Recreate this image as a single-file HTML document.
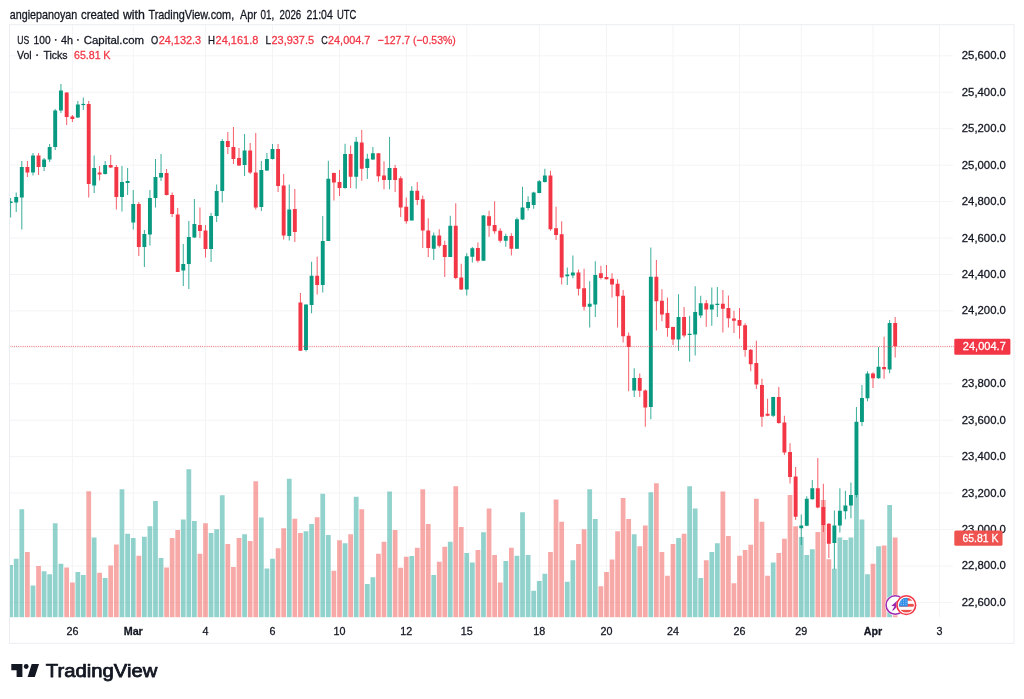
<!DOCTYPE html><html><head><meta charset="utf-8"><title>chart</title><style>html,body{margin:0;padding:0;background:#fff}body{width:1024px;height:699px;overflow:hidden}</style></head><body><svg width="1024" height="699" viewBox="0 0 1024 699" style="display:block">
<rect width="1024" height="699" fill="#fff"/>
<g opacity="0.999">
<defs><clipPath id="pane"><rect x="10.00" y="24.70" width="943.50" height="592.70"/></clipPath></defs>
<g stroke="#f4f4f6" stroke-width="1" shape-rendering="auto">
<line x1="9.5" y1="55.80" x2="953.0" y2="55.80"/>
<line x1="9.5" y1="92.24" x2="953.0" y2="92.24"/>
<line x1="9.5" y1="128.68" x2="953.0" y2="128.68"/>
<line x1="9.5" y1="165.12" x2="953.0" y2="165.12"/>
<line x1="9.5" y1="201.56" x2="953.0" y2="201.56"/>
<line x1="9.5" y1="238.00" x2="953.0" y2="238.00"/>
<line x1="9.5" y1="274.44" x2="953.0" y2="274.44"/>
<line x1="9.5" y1="310.88" x2="953.0" y2="310.88"/>
<line x1="9.5" y1="347.32" x2="953.0" y2="347.32"/>
<line x1="9.5" y1="383.76" x2="953.0" y2="383.76"/>
<line x1="9.5" y1="420.20" x2="953.0" y2="420.20"/>
<line x1="9.5" y1="456.64" x2="953.0" y2="456.64"/>
<line x1="9.5" y1="493.08" x2="953.0" y2="493.08"/>
<line x1="9.5" y1="529.52" x2="953.0" y2="529.52"/>
<line x1="9.5" y1="565.96" x2="953.0" y2="565.96"/>
<line x1="9.5" y1="602.40" x2="953.0" y2="602.40"/>
<line x1="72.40" y1="24.7" x2="72.40" y2="617.4"/>
<line x1="133.25" y1="24.7" x2="133.25" y2="617.4"/>
<line x1="205.50" y1="24.7" x2="205.50" y2="617.4"/>
<line x1="272.50" y1="24.7" x2="272.50" y2="617.4"/>
<line x1="339.50" y1="24.7" x2="339.50" y2="617.4"/>
<line x1="406.25" y1="24.7" x2="406.25" y2="617.4"/>
<line x1="466.75" y1="24.7" x2="466.75" y2="617.4"/>
<line x1="539.25" y1="24.7" x2="539.25" y2="617.4"/>
<line x1="606.50" y1="24.7" x2="606.50" y2="617.4"/>
<line x1="673.00" y1="24.7" x2="673.00" y2="617.4"/>
<line x1="739.50" y1="24.7" x2="739.50" y2="617.4"/>
<line x1="801.25" y1="24.7" x2="801.25" y2="617.4"/>
<line x1="873.00" y1="24.7" x2="873.00" y2="617.4"/>
<line x1="939.50" y1="24.7" x2="939.50" y2="617.4"/>
</g>
<g clip-path="url(#pane)">
<rect x="8.22" y="565.00" width="4.75" height="52.40" fill="#26a69a" fill-opacity="0.5"/>
<rect x="13.82" y="558.75" width="4.75" height="58.65" fill="#26a69a" fill-opacity="0.5"/>
<rect x="19.42" y="509.25" width="4.75" height="108.15" fill="#26a69a" fill-opacity="0.5"/>
<rect x="25.02" y="552.00" width="4.75" height="65.40" fill="#ef5350" fill-opacity="0.5"/>
<rect x="30.62" y="585.50" width="4.75" height="31.90" fill="#26a69a" fill-opacity="0.5"/>
<rect x="36.17" y="566.00" width="4.75" height="51.40" fill="#ef5350" fill-opacity="0.5"/>
<rect x="41.73" y="571.25" width="4.75" height="46.15" fill="#26a69a" fill-opacity="0.5"/>
<rect x="47.28" y="574.25" width="4.75" height="43.15" fill="#26a69a" fill-opacity="0.5"/>
<rect x="52.83" y="523.25" width="4.75" height="94.15" fill="#26a69a" fill-opacity="0.5"/>
<rect x="58.56" y="563.75" width="4.75" height="53.65" fill="#26a69a" fill-opacity="0.5"/>
<rect x="64.29" y="567.50" width="4.75" height="49.90" fill="#ef5350" fill-opacity="0.5"/>
<rect x="70.03" y="582.50" width="4.75" height="34.90" fill="#ef5350" fill-opacity="0.5"/>
<rect x="75.47" y="572.00" width="4.75" height="45.40" fill="#26a69a" fill-opacity="0.5"/>
<rect x="80.91" y="575.00" width="4.75" height="42.40" fill="#26a69a" fill-opacity="0.5"/>
<rect x="86.34" y="491.25" width="4.75" height="126.15" fill="#ef5350" fill-opacity="0.5"/>
<rect x="91.78" y="537.50" width="4.75" height="79.90" fill="#26a69a" fill-opacity="0.5"/>
<rect x="97.22" y="572.75" width="4.75" height="44.65" fill="#ef5350" fill-opacity="0.5"/>
<rect x="102.78" y="578.00" width="4.75" height="39.40" fill="#26a69a" fill-opacity="0.5"/>
<rect x="108.33" y="565.50" width="4.75" height="51.90" fill="#ef5350" fill-opacity="0.5"/>
<rect x="113.96" y="544.50" width="4.75" height="72.90" fill="#ef5350" fill-opacity="0.5"/>
<rect x="119.60" y="489.25" width="4.75" height="128.15" fill="#26a69a" fill-opacity="0.5"/>
<rect x="125.24" y="533.75" width="4.75" height="83.65" fill="#26a69a" fill-opacity="0.5"/>
<rect x="130.88" y="538.00" width="4.75" height="79.40" fill="#26a69a" fill-opacity="0.5"/>
<rect x="136.43" y="555.75" width="4.75" height="61.65" fill="#ef5350" fill-opacity="0.5"/>
<rect x="141.99" y="536.75" width="4.75" height="80.65" fill="#26a69a" fill-opacity="0.5"/>
<rect x="147.55" y="526.25" width="4.75" height="91.15" fill="#26a69a" fill-opacity="0.5"/>
<rect x="153.11" y="501.00" width="4.75" height="116.40" fill="#26a69a" fill-opacity="0.5"/>
<rect x="158.66" y="558.00" width="4.75" height="59.40" fill="#26a69a" fill-opacity="0.5"/>
<rect x="164.22" y="567.50" width="4.75" height="49.90" fill="#ef5350" fill-opacity="0.5"/>
<rect x="169.78" y="538.00" width="4.75" height="79.40" fill="#ef5350" fill-opacity="0.5"/>
<rect x="175.34" y="530.00" width="4.75" height="87.40" fill="#ef5350" fill-opacity="0.5"/>
<rect x="180.89" y="519.50" width="4.75" height="97.90" fill="#26a69a" fill-opacity="0.5"/>
<rect x="186.45" y="469.25" width="4.75" height="148.15" fill="#26a69a" fill-opacity="0.5"/>
<rect x="192.01" y="521.00" width="4.75" height="96.40" fill="#26a69a" fill-opacity="0.5"/>
<rect x="197.57" y="553.75" width="4.75" height="63.65" fill="#ef5350" fill-opacity="0.5"/>
<rect x="203.12" y="523.25" width="4.75" height="94.15" fill="#ef5350" fill-opacity="0.5"/>
<rect x="208.71" y="533.00" width="4.75" height="84.40" fill="#26a69a" fill-opacity="0.5"/>
<rect x="214.29" y="529.25" width="4.75" height="88.15" fill="#26a69a" fill-opacity="0.5"/>
<rect x="219.88" y="495.25" width="4.75" height="122.15" fill="#26a69a" fill-opacity="0.5"/>
<rect x="225.46" y="544.00" width="4.75" height="73.40" fill="#ef5350" fill-opacity="0.5"/>
<rect x="231.04" y="567.00" width="4.75" height="50.40" fill="#ef5350" fill-opacity="0.5"/>
<rect x="236.62" y="538.00" width="4.75" height="79.40" fill="#ef5350" fill-opacity="0.5"/>
<rect x="242.21" y="534.25" width="4.75" height="83.15" fill="#26a69a" fill-opacity="0.5"/>
<rect x="247.79" y="541.00" width="4.75" height="76.40" fill="#ef5350" fill-opacity="0.5"/>
<rect x="253.38" y="481.25" width="4.75" height="136.15" fill="#ef5350" fill-opacity="0.5"/>
<rect x="258.96" y="517.50" width="4.75" height="99.90" fill="#26a69a" fill-opacity="0.5"/>
<rect x="264.54" y="568.50" width="4.75" height="48.90" fill="#26a69a" fill-opacity="0.5"/>
<rect x="270.12" y="558.75" width="4.75" height="58.65" fill="#26a69a" fill-opacity="0.5"/>
<rect x="275.71" y="548.25" width="4.75" height="69.15" fill="#ef5350" fill-opacity="0.5"/>
<rect x="281.29" y="528.25" width="4.75" height="89.15" fill="#ef5350" fill-opacity="0.5"/>
<rect x="286.88" y="478.75" width="4.75" height="138.65" fill="#26a69a" fill-opacity="0.5"/>
<rect x="292.46" y="518.75" width="4.75" height="98.65" fill="#ef5350" fill-opacity="0.5"/>
<rect x="298.04" y="533.00" width="4.75" height="84.40" fill="#ef5350" fill-opacity="0.5"/>
<rect x="303.62" y="531.25" width="4.75" height="86.15" fill="#26a69a" fill-opacity="0.5"/>
<rect x="309.21" y="524.00" width="4.75" height="93.40" fill="#26a69a" fill-opacity="0.5"/>
<rect x="314.79" y="517.25" width="4.75" height="100.15" fill="#ef5350" fill-opacity="0.5"/>
<rect x="320.38" y="493.75" width="4.75" height="123.65" fill="#26a69a" fill-opacity="0.5"/>
<rect x="325.96" y="535.00" width="4.75" height="82.40" fill="#26a69a" fill-opacity="0.5"/>
<rect x="331.54" y="570.75" width="4.75" height="46.65" fill="#ef5350" fill-opacity="0.5"/>
<rect x="337.12" y="540.25" width="4.75" height="77.15" fill="#ef5350" fill-opacity="0.5"/>
<rect x="342.69" y="543.25" width="4.75" height="74.15" fill="#26a69a" fill-opacity="0.5"/>
<rect x="348.25" y="534.25" width="4.75" height="83.15" fill="#ef5350" fill-opacity="0.5"/>
<rect x="353.81" y="496.75" width="4.75" height="120.65" fill="#26a69a" fill-opacity="0.5"/>
<rect x="359.38" y="509.25" width="4.75" height="108.15" fill="#ef5350" fill-opacity="0.5"/>
<rect x="364.94" y="584.00" width="4.75" height="33.40" fill="#26a69a" fill-opacity="0.5"/>
<rect x="370.50" y="577.25" width="4.75" height="40.15" fill="#26a69a" fill-opacity="0.5"/>
<rect x="376.06" y="553.75" width="4.75" height="63.65" fill="#ef5350" fill-opacity="0.5"/>
<rect x="381.62" y="541.75" width="4.75" height="75.65" fill="#ef5350" fill-opacity="0.5"/>
<rect x="387.19" y="491.50" width="4.75" height="125.90" fill="#26a69a" fill-opacity="0.5"/>
<rect x="392.75" y="530.00" width="4.75" height="87.40" fill="#ef5350" fill-opacity="0.5"/>
<rect x="398.31" y="567.75" width="4.75" height="49.65" fill="#ef5350" fill-opacity="0.5"/>
<rect x="403.88" y="556.75" width="4.75" height="60.65" fill="#ef5350" fill-opacity="0.5"/>
<rect x="409.38" y="556.00" width="4.75" height="61.40" fill="#26a69a" fill-opacity="0.5"/>
<rect x="414.88" y="547.75" width="4.75" height="69.65" fill="#ef5350" fill-opacity="0.5"/>
<rect x="420.38" y="489.25" width="4.75" height="128.15" fill="#ef5350" fill-opacity="0.5"/>
<rect x="425.88" y="524.00" width="4.75" height="93.40" fill="#ef5350" fill-opacity="0.5"/>
<rect x="431.38" y="575.00" width="4.75" height="42.40" fill="#26a69a" fill-opacity="0.5"/>
<rect x="436.88" y="561.75" width="4.75" height="55.65" fill="#ef5350" fill-opacity="0.5"/>
<rect x="442.38" y="546.75" width="4.75" height="70.65" fill="#ef5350" fill-opacity="0.5"/>
<rect x="447.88" y="541.75" width="4.75" height="75.65" fill="#26a69a" fill-opacity="0.5"/>
<rect x="453.38" y="486.25" width="4.75" height="131.15" fill="#ef5350" fill-opacity="0.5"/>
<rect x="458.88" y="527.00" width="4.75" height="90.40" fill="#ef5350" fill-opacity="0.5"/>
<rect x="464.38" y="553.00" width="4.75" height="64.40" fill="#26a69a" fill-opacity="0.5"/>
<rect x="469.95" y="562.50" width="4.75" height="54.90" fill="#26a69a" fill-opacity="0.5"/>
<rect x="475.53" y="550.00" width="4.75" height="67.40" fill="#ef5350" fill-opacity="0.5"/>
<rect x="481.11" y="532.25" width="4.75" height="85.15" fill="#26a69a" fill-opacity="0.5"/>
<rect x="486.68" y="508.50" width="4.75" height="108.90" fill="#ef5350" fill-opacity="0.5"/>
<rect x="492.26" y="555.00" width="4.75" height="62.40" fill="#ef5350" fill-opacity="0.5"/>
<rect x="497.84" y="582.50" width="4.75" height="34.90" fill="#ef5350" fill-opacity="0.5"/>
<rect x="503.41" y="561.00" width="4.75" height="56.40" fill="#26a69a" fill-opacity="0.5"/>
<rect x="508.99" y="547.75" width="4.75" height="69.65" fill="#ef5350" fill-opacity="0.5"/>
<rect x="514.57" y="555.75" width="4.75" height="61.65" fill="#26a69a" fill-opacity="0.5"/>
<rect x="520.14" y="512.25" width="4.75" height="105.15" fill="#26a69a" fill-opacity="0.5"/>
<rect x="525.72" y="555.00" width="4.75" height="62.40" fill="#26a69a" fill-opacity="0.5"/>
<rect x="531.30" y="590.75" width="4.75" height="26.65" fill="#26a69a" fill-opacity="0.5"/>
<rect x="536.88" y="581.00" width="4.75" height="36.40" fill="#26a69a" fill-opacity="0.5"/>
<rect x="542.48" y="573.75" width="4.75" height="43.65" fill="#26a69a" fill-opacity="0.5"/>
<rect x="548.08" y="552.00" width="4.75" height="65.40" fill="#ef5350" fill-opacity="0.5"/>
<rect x="553.69" y="499.50" width="4.75" height="117.90" fill="#ef5350" fill-opacity="0.5"/>
<rect x="559.29" y="521.75" width="4.75" height="95.65" fill="#ef5350" fill-opacity="0.5"/>
<rect x="564.90" y="581.75" width="4.75" height="35.65" fill="#26a69a" fill-opacity="0.5"/>
<rect x="570.50" y="560.25" width="4.75" height="57.15" fill="#26a69a" fill-opacity="0.5"/>
<rect x="576.10" y="544.00" width="4.75" height="73.40" fill="#ef5350" fill-opacity="0.5"/>
<rect x="581.71" y="529.25" width="4.75" height="88.15" fill="#ef5350" fill-opacity="0.5"/>
<rect x="587.31" y="489.25" width="4.75" height="128.15" fill="#26a69a" fill-opacity="0.5"/>
<rect x="592.92" y="519.00" width="4.75" height="98.40" fill="#26a69a" fill-opacity="0.5"/>
<rect x="598.52" y="586.25" width="4.75" height="31.15" fill="#ef5350" fill-opacity="0.5"/>
<rect x="604.12" y="572.00" width="4.75" height="45.40" fill="#ef5350" fill-opacity="0.5"/>
<rect x="609.67" y="559.50" width="4.75" height="57.90" fill="#ef5350" fill-opacity="0.5"/>
<rect x="615.21" y="531.25" width="4.75" height="86.15" fill="#ef5350" fill-opacity="0.5"/>
<rect x="620.75" y="498.00" width="4.75" height="119.40" fill="#ef5350" fill-opacity="0.5"/>
<rect x="626.29" y="519.00" width="4.75" height="98.40" fill="#ef5350" fill-opacity="0.5"/>
<rect x="631.83" y="534.25" width="4.75" height="83.15" fill="#26a69a" fill-opacity="0.5"/>
<rect x="637.38" y="546.25" width="4.75" height="71.15" fill="#ef5350" fill-opacity="0.5"/>
<rect x="642.92" y="525.50" width="4.75" height="91.90" fill="#ef5350" fill-opacity="0.5"/>
<rect x="648.46" y="492.25" width="4.75" height="125.15" fill="#26a69a" fill-opacity="0.5"/>
<rect x="654.00" y="483.25" width="4.75" height="134.15" fill="#ef5350" fill-opacity="0.5"/>
<rect x="659.54" y="552.00" width="4.75" height="65.40" fill="#ef5350" fill-opacity="0.5"/>
<rect x="665.08" y="575.75" width="4.75" height="41.65" fill="#ef5350" fill-opacity="0.5"/>
<rect x="670.62" y="544.00" width="4.75" height="73.40" fill="#ef5350" fill-opacity="0.5"/>
<rect x="676.17" y="538.00" width="4.75" height="79.40" fill="#26a69a" fill-opacity="0.5"/>
<rect x="681.71" y="533.75" width="4.75" height="83.65" fill="#ef5350" fill-opacity="0.5"/>
<rect x="687.25" y="486.25" width="4.75" height="131.15" fill="#26a69a" fill-opacity="0.5"/>
<rect x="692.79" y="508.50" width="4.75" height="108.90" fill="#26a69a" fill-opacity="0.5"/>
<rect x="698.33" y="578.00" width="4.75" height="39.40" fill="#26a69a" fill-opacity="0.5"/>
<rect x="703.88" y="560.25" width="4.75" height="57.15" fill="#ef5350" fill-opacity="0.5"/>
<rect x="709.42" y="552.00" width="4.75" height="65.40" fill="#26a69a" fill-opacity="0.5"/>
<rect x="714.96" y="543.25" width="4.75" height="74.15" fill="#26a69a" fill-opacity="0.5"/>
<rect x="720.50" y="491.50" width="4.75" height="125.90" fill="#ef5350" fill-opacity="0.5"/>
<rect x="726.04" y="536.00" width="4.75" height="81.40" fill="#ef5350" fill-opacity="0.5"/>
<rect x="731.58" y="583.25" width="4.75" height="34.15" fill="#ef5350" fill-opacity="0.5"/>
<rect x="737.12" y="555.75" width="4.75" height="61.65" fill="#ef5350" fill-opacity="0.5"/>
<rect x="742.74" y="550.00" width="4.75" height="67.40" fill="#ef5350" fill-opacity="0.5"/>
<rect x="748.35" y="544.75" width="4.75" height="72.65" fill="#ef5350" fill-opacity="0.5"/>
<rect x="753.97" y="498.75" width="4.75" height="118.65" fill="#ef5350" fill-opacity="0.5"/>
<rect x="759.58" y="521.75" width="4.75" height="95.65" fill="#ef5350" fill-opacity="0.5"/>
<rect x="765.19" y="575.75" width="4.75" height="41.65" fill="#ef5350" fill-opacity="0.5"/>
<rect x="770.81" y="562.50" width="4.75" height="54.90" fill="#26a69a" fill-opacity="0.5"/>
<rect x="776.42" y="553.00" width="4.75" height="64.40" fill="#ef5350" fill-opacity="0.5"/>
<rect x="782.03" y="538.75" width="4.75" height="78.65" fill="#ef5350" fill-opacity="0.5"/>
<rect x="787.65" y="495.00" width="4.75" height="122.40" fill="#ef5350" fill-opacity="0.5"/>
<rect x="793.26" y="526.25" width="4.75" height="91.15" fill="#ef5350" fill-opacity="0.5"/>
<rect x="798.88" y="537.00" width="4.75" height="80.40" fill="#26a69a" fill-opacity="0.5"/>
<rect x="804.39" y="555.00" width="4.75" height="62.40" fill="#26a69a" fill-opacity="0.5"/>
<rect x="809.91" y="549.25" width="4.75" height="68.15" fill="#26a69a" fill-opacity="0.5"/>
<rect x="815.43" y="532.00" width="4.75" height="85.40" fill="#ef5350" fill-opacity="0.5"/>
<rect x="820.95" y="500.00" width="4.75" height="117.40" fill="#ef5350" fill-opacity="0.5"/>
<rect x="826.47" y="559.25" width="4.75" height="58.15" fill="#ef5350" fill-opacity="0.5"/>
<rect x="831.99" y="568.75" width="4.75" height="48.65" fill="#26a69a" fill-opacity="0.5"/>
<rect x="837.51" y="537.50" width="4.75" height="79.90" fill="#26a69a" fill-opacity="0.5"/>
<rect x="843.03" y="540.00" width="4.75" height="77.40" fill="#26a69a" fill-opacity="0.5"/>
<rect x="848.55" y="537.50" width="4.75" height="79.90" fill="#26a69a" fill-opacity="0.5"/>
<rect x="854.07" y="495.00" width="4.75" height="122.40" fill="#26a69a" fill-opacity="0.5"/>
<rect x="859.59" y="519.50" width="4.75" height="97.90" fill="#26a69a" fill-opacity="0.5"/>
<rect x="865.11" y="574.25" width="4.75" height="43.15" fill="#26a69a" fill-opacity="0.5"/>
<rect x="870.62" y="563.75" width="4.75" height="53.65" fill="#ef5350" fill-opacity="0.5"/>
<rect x="876.17" y="546.25" width="4.75" height="71.15" fill="#26a69a" fill-opacity="0.5"/>
<rect x="881.71" y="545.50" width="4.75" height="71.90" fill="#ef5350" fill-opacity="0.5"/>
<rect x="887.25" y="505.00" width="4.75" height="112.40" fill="#26a69a" fill-opacity="0.5"/>
<rect x="892.79" y="537.50" width="4.75" height="79.90" fill="#ef5350" fill-opacity="0.5"/>
<rect x="10.10" y="198.00" width="1" height="19.50" fill="#089981" opacity="0.8"/>
<rect x="8.65" y="201.50" width="3.9" height="1.50" fill="#089981"/>
<rect x="15.70" y="192.50" width="1" height="19.50" fill="#089981" opacity="0.8"/>
<rect x="14.25" y="197.00" width="3.9" height="5.50" fill="#089981"/>
<rect x="21.30" y="161.00" width="1" height="68.50" fill="#089981" opacity="0.8"/>
<rect x="19.85" y="167.00" width="3.9" height="30.50" fill="#089981"/>
<rect x="26.90" y="161.00" width="1" height="16.00" fill="#f23645" opacity="0.8"/>
<rect x="25.45" y="167.00" width="3.9" height="5.50" fill="#f23645"/>
<rect x="32.50" y="153.00" width="1" height="22.50" fill="#089981" opacity="0.8"/>
<rect x="31.05" y="155.50" width="3.9" height="17.00" fill="#089981"/>
<rect x="38.05" y="153.00" width="1" height="22.00" fill="#f23645" opacity="0.8"/>
<rect x="36.60" y="155.50" width="3.9" height="11.50" fill="#f23645"/>
<rect x="43.60" y="158.00" width="1" height="13.00" fill="#089981" opacity="0.8"/>
<rect x="42.15" y="159.50" width="3.9" height="7.50" fill="#089981"/>
<rect x="49.15" y="144.00" width="1" height="18.00" fill="#089981" opacity="0.8"/>
<rect x="47.70" y="147.00" width="3.9" height="12.50" fill="#089981"/>
<rect x="54.70" y="109.00" width="1" height="41.00" fill="#089981" opacity="0.8"/>
<rect x="53.25" y="110.50" width="3.9" height="36.50" fill="#089981"/>
<rect x="60.43" y="84.00" width="1" height="29.00" fill="#089981" opacity="0.8"/>
<rect x="58.98" y="90.50" width="3.9" height="20.00" fill="#089981"/>
<rect x="66.17" y="92.50" width="1" height="32.50" fill="#f23645" opacity="0.8"/>
<rect x="64.72" y="92.50" width="3.9" height="24.50" fill="#f23645"/>
<rect x="71.90" y="115.00" width="1" height="7.00" fill="#f23645" opacity="0.8"/>
<rect x="70.45" y="116.50" width="3.9" height="2.50" fill="#f23645"/>
<rect x="77.34" y="101.00" width="1" height="17.00" fill="#089981" opacity="0.8"/>
<rect x="75.89" y="104.50" width="3.9" height="13.00" fill="#089981"/>
<rect x="82.78" y="97.50" width="1" height="12.50" fill="#089981" opacity="0.8"/>
<rect x="81.33" y="103.90" width="3.9" height="1.20" fill="#089981"/>
<rect x="88.22" y="101.00" width="1" height="96.50" fill="#f23645" opacity="0.8"/>
<rect x="86.77" y="104.00" width="3.9" height="80.00" fill="#f23645"/>
<rect x="93.66" y="155.50" width="1" height="37.50" fill="#089981" opacity="0.8"/>
<rect x="92.21" y="168.00" width="3.9" height="17.50" fill="#089981"/>
<rect x="99.10" y="166.00" width="1" height="14.50" fill="#f23645" opacity="0.8"/>
<rect x="97.65" y="172.50" width="3.9" height="2.00" fill="#f23645"/>
<rect x="104.65" y="161.00" width="1" height="13.50" fill="#089981" opacity="0.8"/>
<rect x="103.20" y="165.00" width="3.9" height="9.00" fill="#089981"/>
<rect x="110.20" y="155.00" width="1" height="13.00" fill="#f23645" opacity="0.8"/>
<rect x="108.75" y="165.00" width="3.9" height="2.50" fill="#f23645"/>
<rect x="115.84" y="165.00" width="1" height="44.50" fill="#f23645" opacity="0.8"/>
<rect x="114.39" y="167.00" width="3.9" height="30.00" fill="#f23645"/>
<rect x="121.47" y="166.00" width="1" height="45.50" fill="#089981" opacity="0.8"/>
<rect x="120.02" y="182.00" width="3.9" height="15.00" fill="#089981"/>
<rect x="127.11" y="168.00" width="1" height="27.00" fill="#089981" opacity="0.8"/>
<rect x="125.66" y="181.00" width="3.9" height="2.00" fill="#089981"/>
<rect x="132.75" y="190.00" width="1" height="39.50" fill="#089981" opacity="0.8"/>
<rect x="131.30" y="204.00" width="3.9" height="18.50" fill="#089981"/>
<rect x="138.31" y="202.00" width="1" height="54.00" fill="#f23645" opacity="0.8"/>
<rect x="136.86" y="204.00" width="3.9" height="43.00" fill="#f23645"/>
<rect x="143.87" y="230.00" width="1" height="37.00" fill="#089981" opacity="0.8"/>
<rect x="142.42" y="234.00" width="3.9" height="13.00" fill="#089981"/>
<rect x="149.42" y="190.00" width="1" height="55.50" fill="#089981" opacity="0.8"/>
<rect x="147.97" y="198.00" width="3.9" height="36.50" fill="#089981"/>
<rect x="154.98" y="159.00" width="1" height="48.50" fill="#089981" opacity="0.8"/>
<rect x="153.53" y="177.00" width="3.9" height="21.00" fill="#089981"/>
<rect x="160.54" y="154.00" width="1" height="27.00" fill="#089981" opacity="0.8"/>
<rect x="159.09" y="173.00" width="3.9" height="4.50" fill="#089981"/>
<rect x="166.10" y="169.00" width="1" height="26.50" fill="#f23645" opacity="0.8"/>
<rect x="164.65" y="173.00" width="3.9" height="22.00" fill="#f23645"/>
<rect x="171.65" y="192.50" width="1" height="24.50" fill="#f23645" opacity="0.8"/>
<rect x="170.20" y="195.00" width="3.9" height="19.00" fill="#f23645"/>
<rect x="177.21" y="208.00" width="1" height="64.00" fill="#f23645" opacity="0.8"/>
<rect x="175.76" y="214.50" width="3.9" height="57.50" fill="#f23645"/>
<rect x="182.77" y="244.00" width="1" height="42.00" fill="#089981" opacity="0.8"/>
<rect x="181.32" y="264.00" width="3.9" height="6.50" fill="#089981"/>
<rect x="188.33" y="221.00" width="1" height="68.00" fill="#089981" opacity="0.8"/>
<rect x="186.88" y="237.00" width="3.9" height="27.00" fill="#089981"/>
<rect x="193.88" y="199.00" width="1" height="39.00" fill="#089981" opacity="0.8"/>
<rect x="192.43" y="224.00" width="3.9" height="13.50" fill="#089981"/>
<rect x="199.44" y="207.50" width="1" height="30.50" fill="#f23645" opacity="0.8"/>
<rect x="197.99" y="225.00" width="3.9" height="6.00" fill="#f23645"/>
<rect x="205.00" y="225.00" width="1" height="32.50" fill="#f23645" opacity="0.8"/>
<rect x="203.55" y="230.50" width="3.9" height="18.50" fill="#f23645"/>
<rect x="210.58" y="213.00" width="1" height="49.00" fill="#089981" opacity="0.8"/>
<rect x="209.13" y="216.00" width="3.9" height="33.00" fill="#089981"/>
<rect x="216.17" y="184.50" width="1" height="37.50" fill="#089981" opacity="0.8"/>
<rect x="214.72" y="191.00" width="3.9" height="25.00" fill="#089981"/>
<rect x="221.75" y="139.00" width="1" height="63.50" fill="#089981" opacity="0.8"/>
<rect x="220.30" y="141.00" width="3.9" height="50.00" fill="#089981"/>
<rect x="227.33" y="132.00" width="1" height="22.00" fill="#f23645" opacity="0.8"/>
<rect x="225.88" y="141.00" width="3.9" height="6.00" fill="#f23645"/>
<rect x="232.92" y="127.00" width="1" height="37.00" fill="#f23645" opacity="0.8"/>
<rect x="231.47" y="147.00" width="3.9" height="12.00" fill="#f23645"/>
<rect x="238.50" y="148.00" width="1" height="18.00" fill="#f23645" opacity="0.8"/>
<rect x="237.05" y="158.00" width="3.9" height="7.50" fill="#f23645"/>
<rect x="244.08" y="134.00" width="1" height="42.00" fill="#089981" opacity="0.8"/>
<rect x="242.63" y="150.50" width="3.9" height="14.50" fill="#089981"/>
<rect x="249.67" y="143.00" width="1" height="31.00" fill="#f23645" opacity="0.8"/>
<rect x="248.22" y="150.50" width="3.9" height="22.00" fill="#f23645"/>
<rect x="255.25" y="133.00" width="1" height="76.50" fill="#f23645" opacity="0.8"/>
<rect x="253.80" y="172.50" width="3.9" height="35.00" fill="#f23645"/>
<rect x="260.83" y="161.00" width="1" height="50.00" fill="#089981" opacity="0.8"/>
<rect x="259.38" y="170.00" width="3.9" height="37.00" fill="#089981"/>
<rect x="266.42" y="153.00" width="1" height="18.00" fill="#089981" opacity="0.8"/>
<rect x="264.97" y="159.00" width="3.9" height="11.50" fill="#089981"/>
<rect x="272.00" y="144.00" width="1" height="15.50" fill="#089981" opacity="0.8"/>
<rect x="270.55" y="149.00" width="3.9" height="10.00" fill="#089981"/>
<rect x="277.58" y="144.00" width="1" height="48.00" fill="#f23645" opacity="0.8"/>
<rect x="276.13" y="149.00" width="3.9" height="37.00" fill="#f23645"/>
<rect x="283.17" y="174.00" width="1" height="65.50" fill="#f23645" opacity="0.8"/>
<rect x="281.72" y="185.50" width="3.9" height="50.00" fill="#f23645"/>
<rect x="288.75" y="184.50" width="1" height="56.00" fill="#089981" opacity="0.8"/>
<rect x="287.30" y="209.50" width="3.9" height="26.50" fill="#089981"/>
<rect x="294.33" y="189.00" width="1" height="53.00" fill="#f23645" opacity="0.8"/>
<rect x="292.88" y="209.00" width="3.9" height="23.00" fill="#f23645"/>
<rect x="299.92" y="293.00" width="1" height="57.75" fill="#f23645" opacity="0.8"/>
<rect x="298.47" y="302.50" width="3.9" height="48.25" fill="#f23645"/>
<rect x="305.50" y="304.50" width="1" height="47.00" fill="#089981" opacity="0.8"/>
<rect x="304.05" y="304.50" width="3.9" height="45.50" fill="#089981"/>
<rect x="311.08" y="261.75" width="1" height="51.50" fill="#089981" opacity="0.8"/>
<rect x="309.63" y="275.75" width="3.9" height="29.25" fill="#089981"/>
<rect x="316.67" y="256.75" width="1" height="37.75" fill="#f23645" opacity="0.8"/>
<rect x="315.22" y="275.75" width="3.9" height="9.25" fill="#f23645"/>
<rect x="322.25" y="216.00" width="1" height="76.50" fill="#089981" opacity="0.8"/>
<rect x="320.80" y="241.00" width="3.9" height="44.00" fill="#089981"/>
<rect x="327.83" y="160.75" width="1" height="80.25" fill="#089981" opacity="0.8"/>
<rect x="326.38" y="178.75" width="3.9" height="62.25" fill="#089981"/>
<rect x="333.42" y="172.50" width="1" height="28.00" fill="#f23645" opacity="0.8"/>
<rect x="331.97" y="173.00" width="3.9" height="9.50" fill="#f23645"/>
<rect x="339.00" y="170.00" width="1" height="26.00" fill="#f23645" opacity="0.8"/>
<rect x="337.55" y="182.00" width="3.9" height="6.00" fill="#f23645"/>
<rect x="344.56" y="143.75" width="1" height="45.00" fill="#089981" opacity="0.8"/>
<rect x="343.11" y="154.00" width="3.9" height="34.00" fill="#089981"/>
<rect x="350.12" y="145.50" width="1" height="42.50" fill="#f23645" opacity="0.8"/>
<rect x="348.68" y="154.00" width="3.9" height="22.75" fill="#f23645"/>
<rect x="355.69" y="137.00" width="1" height="51.75" fill="#089981" opacity="0.8"/>
<rect x="354.24" y="141.75" width="3.9" height="35.00" fill="#089981"/>
<rect x="361.25" y="130.00" width="1" height="50.75" fill="#f23645" opacity="0.8"/>
<rect x="359.80" y="142.50" width="3.9" height="26.25" fill="#f23645"/>
<rect x="366.81" y="153.75" width="1" height="25.25" fill="#089981" opacity="0.8"/>
<rect x="365.36" y="158.75" width="3.9" height="9.25" fill="#089981"/>
<rect x="372.38" y="147.00" width="1" height="13.00" fill="#089981" opacity="0.8"/>
<rect x="370.93" y="153.25" width="3.9" height="6.25" fill="#089981"/>
<rect x="377.94" y="153.25" width="1" height="28.50" fill="#f23645" opacity="0.8"/>
<rect x="376.49" y="153.25" width="3.9" height="23.00" fill="#f23645"/>
<rect x="383.50" y="161.25" width="1" height="28.00" fill="#f23645" opacity="0.8"/>
<rect x="382.05" y="175.50" width="3.9" height="4.50" fill="#f23645"/>
<rect x="389.06" y="137.00" width="1" height="52.25" fill="#089981" opacity="0.8"/>
<rect x="387.61" y="168.00" width="3.9" height="12.00" fill="#089981"/>
<rect x="394.62" y="165.00" width="1" height="27.00" fill="#f23645" opacity="0.8"/>
<rect x="393.18" y="168.00" width="3.9" height="12.00" fill="#f23645"/>
<rect x="400.19" y="176.25" width="1" height="40.75" fill="#f23645" opacity="0.8"/>
<rect x="398.74" y="178.25" width="3.9" height="29.25" fill="#f23645"/>
<rect x="405.75" y="197.50" width="1" height="26.25" fill="#f23645" opacity="0.8"/>
<rect x="404.30" y="206.75" width="3.9" height="14.50" fill="#f23645"/>
<rect x="411.25" y="186.25" width="1" height="34.25" fill="#089981" opacity="0.8"/>
<rect x="409.80" y="190.75" width="3.9" height="29.75" fill="#089981"/>
<rect x="416.75" y="182.00" width="1" height="23.00" fill="#f23645" opacity="0.8"/>
<rect x="415.30" y="190.75" width="3.9" height="9.25" fill="#f23645"/>
<rect x="422.25" y="195.50" width="1" height="52.50" fill="#f23645" opacity="0.8"/>
<rect x="420.80" y="199.25" width="3.9" height="31.25" fill="#f23645"/>
<rect x="427.75" y="218.25" width="1" height="38.75" fill="#f23645" opacity="0.8"/>
<rect x="426.30" y="230.50" width="3.9" height="17.50" fill="#f23645"/>
<rect x="433.25" y="232.50" width="1" height="27.50" fill="#089981" opacity="0.8"/>
<rect x="431.80" y="235.50" width="3.9" height="13.25" fill="#089981"/>
<rect x="438.75" y="229.25" width="1" height="18.25" fill="#f23645" opacity="0.8"/>
<rect x="437.30" y="235.50" width="3.9" height="10.25" fill="#f23645"/>
<rect x="444.25" y="240.75" width="1" height="36.25" fill="#f23645" opacity="0.8"/>
<rect x="442.80" y="245.00" width="3.9" height="12.00" fill="#f23645"/>
<rect x="449.75" y="215.75" width="1" height="41.25" fill="#089981" opacity="0.8"/>
<rect x="448.30" y="225.75" width="3.9" height="31.25" fill="#089981"/>
<rect x="455.25" y="203.25" width="1" height="76.00" fill="#f23645" opacity="0.8"/>
<rect x="453.80" y="225.75" width="3.9" height="52.25" fill="#f23645"/>
<rect x="460.75" y="263.75" width="1" height="26.25" fill="#f23645" opacity="0.8"/>
<rect x="459.30" y="277.50" width="3.9" height="12.00" fill="#f23645"/>
<rect x="466.25" y="253.25" width="1" height="42.25" fill="#089981" opacity="0.8"/>
<rect x="464.80" y="256.25" width="3.9" height="33.25" fill="#089981"/>
<rect x="471.83" y="247.00" width="1" height="15.50" fill="#089981" opacity="0.8"/>
<rect x="470.38" y="248.25" width="3.9" height="8.50" fill="#089981"/>
<rect x="477.40" y="242.50" width="1" height="20.00" fill="#f23645" opacity="0.8"/>
<rect x="475.95" y="248.00" width="3.9" height="12.75" fill="#f23645"/>
<rect x="482.98" y="215.00" width="1" height="45.75" fill="#089981" opacity="0.8"/>
<rect x="481.53" y="215.50" width="3.9" height="45.25" fill="#089981"/>
<rect x="488.56" y="210.75" width="1" height="26.00" fill="#f23645" opacity="0.8"/>
<rect x="487.11" y="216.25" width="3.9" height="9.50" fill="#f23645"/>
<rect x="494.13" y="201.25" width="1" height="32.50" fill="#f23645" opacity="0.8"/>
<rect x="492.68" y="225.00" width="3.9" height="6.25" fill="#f23645"/>
<rect x="499.71" y="228.25" width="1" height="14.25" fill="#f23645" opacity="0.8"/>
<rect x="498.26" y="230.75" width="3.9" height="10.00" fill="#f23645"/>
<rect x="505.29" y="233.75" width="1" height="13.00" fill="#089981" opacity="0.8"/>
<rect x="503.84" y="236.00" width="3.9" height="4.75" fill="#089981"/>
<rect x="510.87" y="233.25" width="1" height="22.25" fill="#f23645" opacity="0.8"/>
<rect x="509.42" y="236.00" width="3.9" height="12.75" fill="#f23645"/>
<rect x="516.44" y="217.50" width="1" height="31.25" fill="#089981" opacity="0.8"/>
<rect x="514.99" y="219.25" width="3.9" height="29.50" fill="#089981"/>
<rect x="522.02" y="186.75" width="1" height="33.25" fill="#089981" opacity="0.8"/>
<rect x="520.57" y="207.50" width="3.9" height="12.00" fill="#089981"/>
<rect x="527.60" y="196.25" width="1" height="14.25" fill="#089981" opacity="0.8"/>
<rect x="526.15" y="202.00" width="3.9" height="6.00" fill="#089981"/>
<rect x="533.17" y="191.75" width="1" height="17.00" fill="#089981" opacity="0.8"/>
<rect x="531.72" y="192.50" width="3.9" height="12.50" fill="#089981"/>
<rect x="538.75" y="180.00" width="1" height="13.25" fill="#089981" opacity="0.8"/>
<rect x="537.30" y="181.25" width="3.9" height="11.75" fill="#089981"/>
<rect x="544.35" y="168.75" width="1" height="13.75" fill="#089981" opacity="0.8"/>
<rect x="542.90" y="175.50" width="3.9" height="6.50" fill="#089981"/>
<rect x="549.96" y="170.75" width="1" height="60.00" fill="#f23645" opacity="0.8"/>
<rect x="548.51" y="175.50" width="3.9" height="53.75" fill="#f23645"/>
<rect x="555.56" y="206.75" width="1" height="33.25" fill="#f23645" opacity="0.8"/>
<rect x="554.11" y="228.25" width="3.9" height="6.75" fill="#f23645"/>
<rect x="561.17" y="221.25" width="1" height="63.25" fill="#f23645" opacity="0.8"/>
<rect x="559.72" y="234.25" width="3.9" height="43.25" fill="#f23645"/>
<rect x="566.77" y="267.50" width="1" height="17.50" fill="#089981" opacity="0.8"/>
<rect x="565.32" y="274.50" width="3.9" height="1.75" fill="#089981"/>
<rect x="572.38" y="255.50" width="1" height="22.75" fill="#089981" opacity="0.8"/>
<rect x="570.92" y="272.50" width="3.9" height="3.00" fill="#089981"/>
<rect x="577.98" y="269.50" width="1" height="26.00" fill="#f23645" opacity="0.8"/>
<rect x="576.53" y="272.50" width="3.9" height="16.25" fill="#f23645"/>
<rect x="583.58" y="268.75" width="1" height="41.75" fill="#f23645" opacity="0.8"/>
<rect x="582.13" y="288.25" width="3.9" height="18.50" fill="#f23645"/>
<rect x="589.19" y="281.25" width="1" height="46.25" fill="#089981" opacity="0.8"/>
<rect x="587.74" y="303.75" width="3.9" height="3.00" fill="#089981"/>
<rect x="594.79" y="261.25" width="1" height="55.75" fill="#089981" opacity="0.8"/>
<rect x="593.34" y="275.00" width="3.9" height="29.50" fill="#089981"/>
<rect x="600.40" y="265.75" width="1" height="13.75" fill="#f23645" opacity="0.8"/>
<rect x="598.95" y="273.25" width="3.9" height="4.75" fill="#f23645"/>
<rect x="606.00" y="265.00" width="1" height="14.50" fill="#f23645" opacity="0.8"/>
<rect x="604.55" y="277.00" width="3.9" height="2.25" fill="#f23645"/>
<rect x="611.54" y="273.25" width="1" height="24.25" fill="#f23645" opacity="0.8"/>
<rect x="610.09" y="278.75" width="3.9" height="5.75" fill="#f23645"/>
<rect x="617.08" y="279.25" width="1" height="48.25" fill="#f23645" opacity="0.8"/>
<rect x="615.63" y="283.75" width="3.9" height="12.50" fill="#f23645"/>
<rect x="622.62" y="290.00" width="1" height="52.50" fill="#f23645" opacity="0.8"/>
<rect x="621.17" y="295.75" width="3.9" height="40.50" fill="#f23645"/>
<rect x="628.17" y="332.50" width="1" height="58.75" fill="#f23645" opacity="0.8"/>
<rect x="626.72" y="335.75" width="3.9" height="11.25" fill="#f23645"/>
<rect x="633.71" y="368.25" width="1" height="28.75" fill="#089981" opacity="0.8"/>
<rect x="632.26" y="378.00" width="3.9" height="12.50" fill="#089981"/>
<rect x="639.25" y="373.50" width="1" height="23.50" fill="#f23645" opacity="0.8"/>
<rect x="637.80" y="378.00" width="3.9" height="12.75" fill="#f23645"/>
<rect x="644.79" y="389.50" width="1" height="37.25" fill="#f23645" opacity="0.8"/>
<rect x="643.34" y="390.50" width="3.9" height="17.00" fill="#f23645"/>
<rect x="650.33" y="247.50" width="1" height="171.75" fill="#089981" opacity="0.8"/>
<rect x="648.88" y="276.75" width="3.9" height="130.25" fill="#089981"/>
<rect x="655.88" y="260.00" width="1" height="70.50" fill="#f23645" opacity="0.8"/>
<rect x="654.42" y="276.75" width="3.9" height="24.50" fill="#f23645"/>
<rect x="661.42" y="289.25" width="1" height="32.00" fill="#f23645" opacity="0.8"/>
<rect x="659.97" y="300.75" width="3.9" height="13.75" fill="#f23645"/>
<rect x="666.96" y="297.50" width="1" height="39.25" fill="#f23645" opacity="0.8"/>
<rect x="665.51" y="313.00" width="3.9" height="15.00" fill="#f23645"/>
<rect x="672.50" y="326.75" width="1" height="18.25" fill="#f23645" opacity="0.8"/>
<rect x="671.05" y="327.00" width="3.9" height="12.50" fill="#f23645"/>
<rect x="678.04" y="294.25" width="1" height="56.50" fill="#089981" opacity="0.8"/>
<rect x="676.59" y="317.00" width="3.9" height="22.50" fill="#089981"/>
<rect x="683.58" y="307.00" width="1" height="30.50" fill="#f23645" opacity="0.8"/>
<rect x="682.13" y="317.00" width="3.9" height="18.50" fill="#f23645"/>
<rect x="689.12" y="315.75" width="1" height="46.00" fill="#089981" opacity="0.8"/>
<rect x="687.67" y="333.75" width="3.9" height="1.25" fill="#089981"/>
<rect x="694.67" y="286.25" width="1" height="69.25" fill="#089981" opacity="0.8"/>
<rect x="693.22" y="312.00" width="3.9" height="22.50" fill="#089981"/>
<rect x="700.21" y="295.75" width="1" height="22.25" fill="#089981" opacity="0.8"/>
<rect x="698.76" y="303.25" width="3.9" height="12.25" fill="#089981"/>
<rect x="705.75" y="300.00" width="1" height="26.75" fill="#f23645" opacity="0.8"/>
<rect x="704.30" y="303.25" width="3.9" height="6.25" fill="#f23645"/>
<rect x="711.29" y="287.50" width="1" height="38.25" fill="#089981" opacity="0.8"/>
<rect x="709.84" y="304.50" width="3.9" height="5.00" fill="#089981"/>
<rect x="716.83" y="287.00" width="1" height="30.00" fill="#089981" opacity="0.8"/>
<rect x="715.38" y="303.75" width="3.9" height="1.25" fill="#089981"/>
<rect x="722.38" y="290.00" width="1" height="42.50" fill="#f23645" opacity="0.8"/>
<rect x="720.92" y="303.75" width="3.9" height="5.00" fill="#f23645"/>
<rect x="727.92" y="295.50" width="1" height="32.00" fill="#f23645" opacity="0.8"/>
<rect x="726.47" y="308.00" width="3.9" height="10.25" fill="#f23645"/>
<rect x="733.46" y="310.75" width="1" height="22.25" fill="#f23645" opacity="0.8"/>
<rect x="732.01" y="318.50" width="3.9" height="2.25" fill="#f23645"/>
<rect x="739.00" y="308.00" width="1" height="30.75" fill="#f23645" opacity="0.8"/>
<rect x="737.55" y="320.00" width="3.9" height="5.75" fill="#f23645"/>
<rect x="744.61" y="323.25" width="1" height="33.50" fill="#f23645" opacity="0.8"/>
<rect x="743.16" y="325.25" width="3.9" height="24.75" fill="#f23645"/>
<rect x="750.23" y="349.00" width="1" height="22.25" fill="#f23645" opacity="0.8"/>
<rect x="748.78" y="349.75" width="3.9" height="14.50" fill="#f23645"/>
<rect x="755.84" y="340.75" width="1" height="48.25" fill="#f23645" opacity="0.8"/>
<rect x="754.39" y="363.00" width="3.9" height="21.50" fill="#f23645"/>
<rect x="761.45" y="378.75" width="1" height="48.00" fill="#f23645" opacity="0.8"/>
<rect x="760.00" y="385.00" width="3.9" height="31.75" fill="#f23645"/>
<rect x="767.07" y="398.75" width="1" height="17.50" fill="#f23645" opacity="0.8"/>
<rect x="765.62" y="413.75" width="3.9" height="2.00" fill="#f23645"/>
<rect x="772.68" y="396.75" width="1" height="20.25" fill="#089981" opacity="0.8"/>
<rect x="771.23" y="397.00" width="3.9" height="18.75" fill="#089981"/>
<rect x="778.30" y="387.00" width="1" height="36.75" fill="#f23645" opacity="0.8"/>
<rect x="776.85" y="397.00" width="3.9" height="26.00" fill="#f23645"/>
<rect x="783.91" y="415.75" width="1" height="39.25" fill="#f23645" opacity="0.8"/>
<rect x="782.46" y="422.50" width="3.9" height="30.00" fill="#f23645"/>
<rect x="789.52" y="443.25" width="1" height="40.25" fill="#f23645" opacity="0.8"/>
<rect x="788.07" y="452.00" width="3.9" height="25.00" fill="#f23645"/>
<rect x="795.14" y="467.00" width="1" height="53.00" fill="#f23645" opacity="0.8"/>
<rect x="793.69" y="476.50" width="3.9" height="40.25" fill="#f23645"/>
<rect x="800.75" y="514.50" width="1" height="30.50" fill="#089981" opacity="0.8"/>
<rect x="799.30" y="525.50" width="3.9" height="2.75" fill="#089981"/>
<rect x="806.27" y="496.25" width="1" height="30.00" fill="#089981" opacity="0.8"/>
<rect x="804.82" y="498.75" width="3.9" height="27.00" fill="#089981"/>
<rect x="811.79" y="480.00" width="1" height="19.50" fill="#089981" opacity="0.8"/>
<rect x="810.34" y="488.25" width="3.9" height="11.00" fill="#089981"/>
<rect x="817.31" y="458.00" width="1" height="50.25" fill="#f23645" opacity="0.8"/>
<rect x="815.86" y="488.25" width="3.9" height="19.25" fill="#f23645"/>
<rect x="822.83" y="483.75" width="1" height="48.25" fill="#f23645" opacity="0.8"/>
<rect x="821.38" y="507.00" width="3.9" height="18.00" fill="#f23645"/>
<rect x="828.35" y="523.25" width="1" height="34.75" fill="#f23645" opacity="0.8"/>
<rect x="826.90" y="523.75" width="3.9" height="20.00" fill="#f23645"/>
<rect x="833.87" y="510.50" width="1" height="58.75" fill="#089981" opacity="0.8"/>
<rect x="832.42" y="525.50" width="3.9" height="17.50" fill="#089981"/>
<rect x="839.38" y="488.25" width="1" height="44.25" fill="#089981" opacity="0.8"/>
<rect x="837.93" y="510.75" width="3.9" height="14.75" fill="#089981"/>
<rect x="844.90" y="490.75" width="1" height="28.50" fill="#089981" opacity="0.8"/>
<rect x="843.45" y="505.50" width="3.9" height="5.75" fill="#089981"/>
<rect x="850.42" y="482.50" width="1" height="35.75" fill="#089981" opacity="0.8"/>
<rect x="848.97" y="495.00" width="3.9" height="10.50" fill="#089981"/>
<rect x="855.94" y="407.00" width="1" height="90.50" fill="#089981" opacity="0.8"/>
<rect x="854.49" y="421.75" width="3.9" height="73.25" fill="#089981"/>
<rect x="861.46" y="385.00" width="1" height="41.00" fill="#089981" opacity="0.8"/>
<rect x="860.01" y="398.00" width="3.9" height="24.00" fill="#089981"/>
<rect x="866.98" y="371.25" width="1" height="30.00" fill="#089981" opacity="0.8"/>
<rect x="865.53" y="373.50" width="3.9" height="24.75" fill="#089981"/>
<rect x="872.50" y="372.25" width="1" height="15.75" fill="#f23645" opacity="0.8"/>
<rect x="871.05" y="373.50" width="3.9" height="4.75" fill="#f23645"/>
<rect x="878.04" y="347.00" width="1" height="31.75" fill="#089981" opacity="0.8"/>
<rect x="876.59" y="366.75" width="3.9" height="11.50" fill="#089981"/>
<rect x="883.58" y="336.75" width="1" height="42.00" fill="#f23645" opacity="0.8"/>
<rect x="882.13" y="367.00" width="3.9" height="2.25" fill="#f23645"/>
<rect x="889.12" y="320.00" width="1" height="53.25" fill="#089981" opacity="0.8"/>
<rect x="887.67" y="323.00" width="3.9" height="46.50" fill="#089981"/>
<rect x="894.67" y="317.00" width="1" height="40.50" fill="#f23645" opacity="0.8"/>
<rect x="893.22" y="323.00" width="3.9" height="23.25" fill="#f23645"/>
</g>
<line x1="9.5" y1="346.4" x2="954.0" y2="346.4" stroke="#f23645" stroke-width="1" stroke-dasharray="0.95 1.24" opacity="0.75"/>
<rect x="9.5" y="24.7" width="1004.5" height="618.5999999999999" fill="none" stroke="#ecedf1" stroke-width="1"/>
<text x="961.8" y="59" font-family="Liberation Sans, sans-serif" stroke-width="0.28" paint-order="stroke" font-size="11.1" fill="#131722" stroke="#131722" textLength="44.1" lengthAdjust="spacingAndGlyphs">25,600.0</text>
<text x="961.8" y="96" font-family="Liberation Sans, sans-serif" stroke-width="0.28" paint-order="stroke" font-size="11.1" fill="#131722" stroke="#131722" textLength="44.1" lengthAdjust="spacingAndGlyphs">25,400.0</text>
<text x="961.8" y="132" font-family="Liberation Sans, sans-serif" stroke-width="0.28" paint-order="stroke" font-size="11.1" fill="#131722" stroke="#131722" textLength="44.1" lengthAdjust="spacingAndGlyphs">25,200.0</text>
<text x="961.8" y="169" font-family="Liberation Sans, sans-serif" stroke-width="0.28" paint-order="stroke" font-size="11.1" fill="#131722" stroke="#131722" textLength="44.1" lengthAdjust="spacingAndGlyphs">25,000.0</text>
<text x="961.8" y="205" font-family="Liberation Sans, sans-serif" stroke-width="0.28" paint-order="stroke" font-size="11.1" fill="#131722" stroke="#131722" textLength="44.1" lengthAdjust="spacingAndGlyphs">24,800.0</text>
<text x="961.8" y="242" font-family="Liberation Sans, sans-serif" stroke-width="0.28" paint-order="stroke" font-size="11.1" fill="#131722" stroke="#131722" textLength="44.1" lengthAdjust="spacingAndGlyphs">24,600.0</text>
<text x="961.8" y="278" font-family="Liberation Sans, sans-serif" stroke-width="0.28" paint-order="stroke" font-size="11.1" fill="#131722" stroke="#131722" textLength="44.1" lengthAdjust="spacingAndGlyphs">24,400.0</text>
<text x="961.8" y="314" font-family="Liberation Sans, sans-serif" stroke-width="0.28" paint-order="stroke" font-size="11.1" fill="#131722" stroke="#131722" textLength="44.1" lengthAdjust="spacingAndGlyphs">24,200.0</text>
<text x="961.8" y="351" font-family="Liberation Sans, sans-serif" stroke-width="0.28" paint-order="stroke" font-size="11.1" fill="#131722" stroke="#131722" textLength="44.1" lengthAdjust="spacingAndGlyphs">24,000.0</text>
<text x="961.8" y="387" font-family="Liberation Sans, sans-serif" stroke-width="0.28" paint-order="stroke" font-size="11.1" fill="#131722" stroke="#131722" textLength="44.1" lengthAdjust="spacingAndGlyphs">23,800.0</text>
<text x="961.8" y="424" font-family="Liberation Sans, sans-serif" stroke-width="0.28" paint-order="stroke" font-size="11.1" fill="#131722" stroke="#131722" textLength="44.1" lengthAdjust="spacingAndGlyphs">23,600.0</text>
<text x="961.8" y="460" font-family="Liberation Sans, sans-serif" stroke-width="0.28" paint-order="stroke" font-size="11.1" fill="#131722" stroke="#131722" textLength="44.1" lengthAdjust="spacingAndGlyphs">23,400.0</text>
<text x="961.8" y="497" font-family="Liberation Sans, sans-serif" stroke-width="0.28" paint-order="stroke" font-size="11.1" fill="#131722" stroke="#131722" textLength="44.1" lengthAdjust="spacingAndGlyphs">23,200.0</text>
<text x="961.8" y="533" font-family="Liberation Sans, sans-serif" stroke-width="0.28" paint-order="stroke" font-size="11.1" fill="#131722" stroke="#131722" textLength="44.1" lengthAdjust="spacingAndGlyphs">23,000.0</text>
<text x="961.8" y="569" font-family="Liberation Sans, sans-serif" stroke-width="0.28" paint-order="stroke" font-size="11.1" fill="#131722" stroke="#131722" textLength="44.1" lengthAdjust="spacingAndGlyphs">22,800.0</text>
<text x="961.8" y="606" font-family="Liberation Sans, sans-serif" stroke-width="0.28" paint-order="stroke" font-size="11.1" fill="#131722" stroke="#131722" textLength="44.1" lengthAdjust="spacingAndGlyphs">22,600.0</text>
<rect x="954.3" y="530.6" width="48.2" height="15.1" rx="1.5" fill="#ef5350"/>
<text x="962.5" y="542.2" font-family="Liberation Sans, sans-serif" stroke-width="0.28" paint-order="stroke" font-size="11.1" fill="#fff" stroke="#fff" textLength="36.0" lengthAdjust="spacingAndGlyphs">65.81 K</text>
<rect x="954.3" y="338.8" width="56.1" height="15.9" rx="1.3" fill="#f23645"/>
<text x="962.8" y="349.9" font-family="Liberation Sans, sans-serif" stroke-width="0.28" paint-order="stroke" font-size="11.1" fill="#fff" stroke="#fff" textLength="43" lengthAdjust="spacingAndGlyphs">24,004.7</text>
<text transform="translate(72.40,634.6) scale(0.97,1)" text-anchor="middle" font-family="Liberation Sans, sans-serif" stroke-width="0.28" paint-order="stroke" font-size="11.1" fill="#131722" stroke="#131722">26</text>
<text transform="translate(133.25,634.6) scale(0.97,1)" text-anchor="middle" font-family="Liberation Sans, sans-serif" stroke-width="0.28" paint-order="stroke" font-size="11.1" font-weight="bold" fill="#131722" stroke="#131722">Mar</text>
<text transform="translate(205.50,634.6) scale(0.97,1)" text-anchor="middle" font-family="Liberation Sans, sans-serif" stroke-width="0.28" paint-order="stroke" font-size="11.1" fill="#131722" stroke="#131722">4</text>
<text transform="translate(272.50,634.6) scale(0.97,1)" text-anchor="middle" font-family="Liberation Sans, sans-serif" stroke-width="0.28" paint-order="stroke" font-size="11.1" fill="#131722" stroke="#131722">6</text>
<text transform="translate(339.50,634.6) scale(0.97,1)" text-anchor="middle" font-family="Liberation Sans, sans-serif" stroke-width="0.28" paint-order="stroke" font-size="11.1" fill="#131722" stroke="#131722">10</text>
<text transform="translate(406.25,634.6) scale(0.97,1)" text-anchor="middle" font-family="Liberation Sans, sans-serif" stroke-width="0.28" paint-order="stroke" font-size="11.1" fill="#131722" stroke="#131722">12</text>
<text transform="translate(466.75,634.6) scale(0.97,1)" text-anchor="middle" font-family="Liberation Sans, sans-serif" stroke-width="0.28" paint-order="stroke" font-size="11.1" fill="#131722" stroke="#131722">15</text>
<text transform="translate(539.25,634.6) scale(0.97,1)" text-anchor="middle" font-family="Liberation Sans, sans-serif" stroke-width="0.28" paint-order="stroke" font-size="11.1" fill="#131722" stroke="#131722">18</text>
<text transform="translate(606.50,634.6) scale(0.97,1)" text-anchor="middle" font-family="Liberation Sans, sans-serif" stroke-width="0.28" paint-order="stroke" font-size="11.1" fill="#131722" stroke="#131722">20</text>
<text transform="translate(673.00,634.6) scale(0.97,1)" text-anchor="middle" font-family="Liberation Sans, sans-serif" stroke-width="0.28" paint-order="stroke" font-size="11.1" fill="#131722" stroke="#131722">24</text>
<text transform="translate(739.50,634.6) scale(0.97,1)" text-anchor="middle" font-family="Liberation Sans, sans-serif" stroke-width="0.28" paint-order="stroke" font-size="11.1" fill="#131722" stroke="#131722">26</text>
<text transform="translate(801.25,634.6) scale(0.97,1)" text-anchor="middle" font-family="Liberation Sans, sans-serif" stroke-width="0.28" paint-order="stroke" font-size="11.1" fill="#131722" stroke="#131722">29</text>
<text transform="translate(873.00,634.6) scale(0.97,1)" text-anchor="middle" font-family="Liberation Sans, sans-serif" stroke-width="0.28" paint-order="stroke" font-size="11.1" font-weight="bold" fill="#131722" stroke="#131722">Apr</text>
<text transform="translate(939.50,634.6) scale(0.97,1)" text-anchor="middle" font-family="Liberation Sans, sans-serif" stroke-width="0.28" paint-order="stroke" font-size="11.1" fill="#131722" stroke="#131722">3</text>
<text x="9.8" y="18.5" font-family="Liberation Sans, sans-serif" stroke-width="0.28" paint-order="stroke" font-size="12.4" fill="#131722" stroke="#131722" textLength="67.5" lengthAdjust="spacingAndGlyphs">angiepanoyan</text>
<text x="80.9" y="18.5" font-family="Liberation Sans, sans-serif" stroke-width="0.28" paint-order="stroke" font-size="12.4" fill="#131722" stroke="#131722" textLength="38.3" lengthAdjust="spacingAndGlyphs">created</text>
<text x="122.9" y="18.5" font-family="Liberation Sans, sans-serif" stroke-width="0.28" paint-order="stroke" font-size="12.4" fill="#131722" stroke="#131722" textLength="22.0" lengthAdjust="spacingAndGlyphs">with</text>
<text x="148.4" y="18.5" font-family="Liberation Sans, sans-serif" stroke-width="0.28" paint-order="stroke" font-size="12.4" fill="#131722" stroke="#131722" textLength="85.8" lengthAdjust="spacingAndGlyphs">TradingView.com,</text>
<text x="240.0" y="18.5" font-family="Liberation Sans, sans-serif" stroke-width="0.28" paint-order="stroke" font-size="12.4" fill="#131722" stroke="#131722" textLength="16.8" lengthAdjust="spacingAndGlyphs">Apr</text>
<text x="260.6" y="18.5" font-family="Liberation Sans, sans-serif" stroke-width="0.28" paint-order="stroke" font-size="12.4" fill="#131722" stroke="#131722" textLength="13.7" lengthAdjust="spacingAndGlyphs">01,</text>
<text x="279.6" y="18.5" font-family="Liberation Sans, sans-serif" stroke-width="0.28" paint-order="stroke" font-size="12.4" fill="#131722" stroke="#131722" textLength="21.6" lengthAdjust="spacingAndGlyphs">2026</text>
<text x="306.5" y="18.5" font-family="Liberation Sans, sans-serif" stroke-width="0.28" paint-order="stroke" font-size="12.4" fill="#131722" stroke="#131722" textLength="26.3" lengthAdjust="spacingAndGlyphs">21:04</text>
<text x="336.9" y="18.5" font-family="Liberation Sans, sans-serif" stroke-width="0.28" paint-order="stroke" font-size="12.4" fill="#131722" stroke="#131722" textLength="19.4" lengthAdjust="spacingAndGlyphs">UTC</text>
<text x="17.2" y="43.7" font-family="Liberation Sans, sans-serif" stroke-width="0.28" paint-order="stroke" font-size="11.4" fill="#131722" stroke="#131722" textLength="11.9" lengthAdjust="spacingAndGlyphs">US</text>
<text x="33.6" y="43.7" font-family="Liberation Sans, sans-serif" stroke-width="0.28" paint-order="stroke" font-size="11.4" fill="#131722" stroke="#131722" textLength="17.0" lengthAdjust="spacingAndGlyphs">100</text>
<text x="61.0" y="43.7" font-family="Liberation Sans, sans-serif" stroke-width="0.28" paint-order="stroke" font-size="11.4" fill="#131722" stroke="#131722" textLength="12.0" lengthAdjust="spacingAndGlyphs">4h</text>
<text x="83.7" y="43.7" font-family="Liberation Sans, sans-serif" stroke-width="0.28" paint-order="stroke" font-size="11.4" fill="#131722" stroke="#131722" textLength="60.4" lengthAdjust="spacingAndGlyphs">Capital.com</text>
<text x="151.0" y="43.7" font-family="Liberation Sans, sans-serif" stroke-width="0.28" paint-order="stroke" font-size="11.4" fill="#131722" stroke="#131722" textLength="7.2" lengthAdjust="spacingAndGlyphs">O</text>
<text x="158.7" y="43.7" font-family="Liberation Sans, sans-serif" stroke-width="0.28" paint-order="stroke" font-size="11.4" fill="#f23645" stroke="#f23645" textLength="42.5" lengthAdjust="spacingAndGlyphs">24,132.3</text>
<text x="208.0" y="43.7" font-family="Liberation Sans, sans-serif" stroke-width="0.28" paint-order="stroke" font-size="11.4" fill="#131722" stroke="#131722" textLength="7.0" lengthAdjust="spacingAndGlyphs">H</text>
<text x="215.6" y="43.7" font-family="Liberation Sans, sans-serif" stroke-width="0.28" paint-order="stroke" font-size="11.4" fill="#f23645" stroke="#f23645" textLength="42.7" lengthAdjust="spacingAndGlyphs">24,161.8</text>
<text x="265.6" y="43.7" font-family="Liberation Sans, sans-serif" stroke-width="0.28" paint-order="stroke" font-size="11.4" fill="#131722" stroke="#131722" textLength="5.5" lengthAdjust="spacingAndGlyphs">L</text>
<text x="271.5" y="43.7" font-family="Liberation Sans, sans-serif" stroke-width="0.28" paint-order="stroke" font-size="11.4" fill="#f23645" stroke="#f23645" textLength="42.5" lengthAdjust="spacingAndGlyphs">23,937.5</text>
<text x="321.2" y="43.7" font-family="Liberation Sans, sans-serif" stroke-width="0.28" paint-order="stroke" font-size="11.4" fill="#131722" stroke="#131722" textLength="6.5" lengthAdjust="spacingAndGlyphs">C</text>
<text x="328.0" y="43.7" font-family="Liberation Sans, sans-serif" stroke-width="0.28" paint-order="stroke" font-size="11.4" fill="#f23645" stroke="#f23645" textLength="42.4" lengthAdjust="spacingAndGlyphs">24,004.7</text>
<text x="377.8" y="43.7" font-family="Liberation Sans, sans-serif" stroke-width="0.28" paint-order="stroke" font-size="11.4" fill="#f23645" stroke="#f23645" textLength="78.0" lengthAdjust="spacingAndGlyphs">−127.7 (−0.53%)</text>
<rect x="54.900000000000006" y="39.1" width="1.6" height="1.6" fill="#131722"/>
<rect x="77.10000000000001" y="39.1" width="1.6" height="1.6" fill="#131722"/>
<rect x="36.300000000000004" y="54.300000000000004" width="1.6" height="1.6" fill="#131722"/>
<text x="17.0" y="58.9" font-family="Liberation Sans, sans-serif" stroke-width="0.28" paint-order="stroke" font-size="11.4" fill="#131722" stroke="#131722" textLength="14.6" lengthAdjust="spacingAndGlyphs">Vol</text>
<text x="43.4" y="58.9" font-family="Liberation Sans, sans-serif" stroke-width="0.28" paint-order="stroke" font-size="11.4" fill="#131722" stroke="#131722" textLength="24.2" lengthAdjust="spacingAndGlyphs">Ticks</text>
<text x="74.0" y="58.9" font-family="Liberation Sans, sans-serif" stroke-width="0.28" paint-order="stroke" font-size="11.4" fill="#f23645" stroke="#f23645" textLength="26.6" lengthAdjust="spacingAndGlyphs">65.81</text>
<text x="103.2" y="58.9" font-family="Liberation Sans, sans-serif" stroke-width="0.28" paint-order="stroke" font-size="11.4" fill="#f23645" stroke="#f23645" textLength="7.2" lengthAdjust="spacingAndGlyphs">K</text>
<g>
<circle cx="895.3" cy="605.1" r="10.4" fill="#fff"/>
<circle cx="895.3" cy="605.1" r="9.25" fill="#fff" stroke="#9c27b0" stroke-width="1.5"/>
<path d="M898.6 599.6 L891.2 605.9 L894.6 606.2 L892.0 610.4 L893.3 610.6 L899.3 604.6 L896.2 604.3 Z" fill="#9c27b0"/>
<circle cx="906.3" cy="605.1" r="10.1" fill="#fff"/>
<circle cx="906.3" cy="605.1" r="9.35" fill="#fff" stroke="#f23645" stroke-width="1.6"/>
<clipPath id="fl"><circle cx="906.4" cy="605.2" r="7.4"/></clipPath>
<g clip-path="url(#fl)"><rect x="898" y="597" width="17" height="17" fill="#fafafa"/>
<rect x="898" y="597.9" width="17" height="2.8" fill="#ef4f4c"/>
<rect x="898" y="603.9" width="17" height="2.8" fill="#ef4f4c"/>
<rect x="898" y="609.9" width="17" height="2.8" fill="#ef4f4c"/>
<rect x="898" y="597" width="9.7" height="9.5" fill="#2f8fe8"/>
<rect x="900.6" y="599.6" width="1.0" height="1.0" fill="#9ccaf5"/>
<rect x="900.6" y="601.8" width="1.0" height="1.0" fill="#9ccaf5"/>
<rect x="900.6" y="604.0" width="1.0" height="1.0" fill="#9ccaf5"/>
<rect x="903.0" y="599.6" width="1.0" height="1.0" fill="#9ccaf5"/>
<rect x="903.0" y="601.8" width="1.0" height="1.0" fill="#9ccaf5"/>
<rect x="903.0" y="604.0" width="1.0" height="1.0" fill="#9ccaf5"/>
<rect x="905.4" y="599.6" width="1.0" height="1.0" fill="#9ccaf5"/>
<rect x="905.4" y="601.8" width="1.0" height="1.0" fill="#9ccaf5"/>
<rect x="905.4" y="604.0" width="1.0" height="1.0" fill="#9ccaf5"/>
</g>
</g>
<g fill="#131722">
<path d="M11.3 664.1 H22.4 V676.9 H16.6 V670.3 H11.3 Z"/>
<circle cx="26.2" cy="666.5" r="2.4"/>
<path d="M31.7 664.1 H39.0 L34.8 676.9 H27.6 Z"/>
<text x="45.8" y="676.9" font-family="Liberation Sans, sans-serif" font-size="17.8" stroke="#131722" stroke-width="0.75" stroke-linejoin="round" textLength="111.5" lengthAdjust="spacingAndGlyphs">TradingView</text>
</g>
</g>
</svg></body></html>
